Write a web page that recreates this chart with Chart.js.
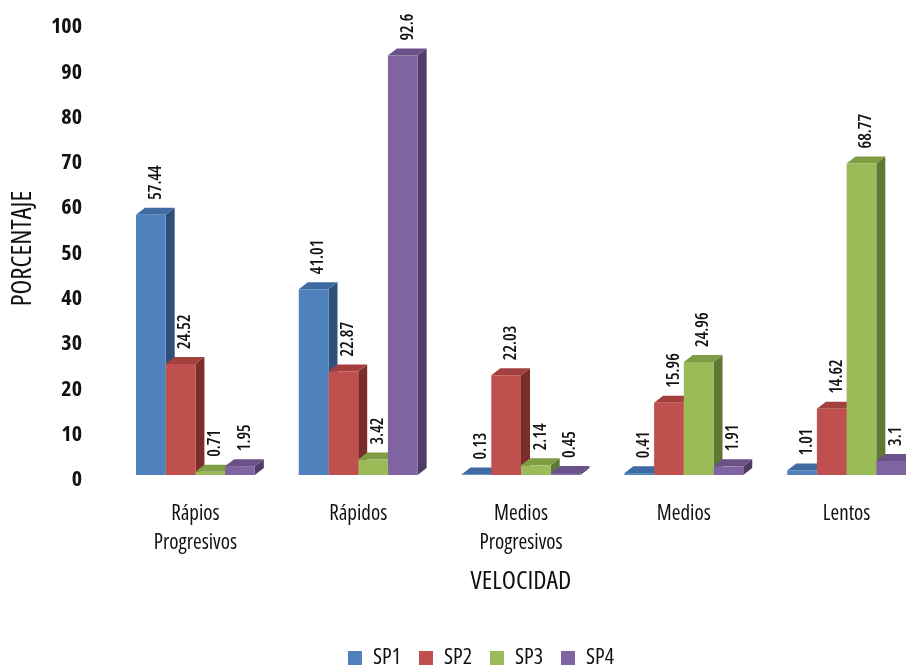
<!DOCTYPE html>
<html>
<head>
<meta charset="utf-8">
<script src="https://cdn.jsdelivr.net/npm/chart.js@4.4.0/dist/chart.umd.min.js"></script>
<style>
    html, body { margin: 0; padding: 0; background: #fff; overflow: hidden; }
    #wrap { width: 962px; height: 669px; }
</style>
</head>
<body>
<div id="wrap"><canvas id="velocidadChart"></canvas></div>
<script>
const categories = [["Rápios", "Progresivos"], "Rápidos", ["Medios", "Progresivos"], "Medios", "Lentos"];
const seriesNames = ["SP1", "SP2", "SP3", "SP4"];
const sp1 = [57.44, 41.01, 0.13, 0.41, 1.01];
const sp2 = [24.52, 22.87, 22.03, 15.96, 14.62];
const sp3 = [0.71, 3.42, 2.14, 24.96, 68.77];
const sp4 = [1.95, 92.6, 0.45, 1.91, 3.1];
const yTicks = [0, 10, 20, 30, 40, 50, 60, 70, 80, 90, 100];

const FONT = "'Open Sans', sans-serif";

// colores: frente, arriba, lado
const frontColors = ["#4F81BD", "#C0504D", "#9BBB59", "#8064A2"];
const topColors = ["#3F6BA3", "#A33F3C", "#7F9D45", "#6A5189"];
const sideColors = ["#2F5079", "#7A2D2B", "#5F7832", "#4E3B66"];

const DX = 9, DY = 7;

/* ===============================
   caras 3D (lado y arriba) detras del frente
=============================== */
const bars3d = {
    id: "bars3d",
    beforeDatasetsDraw(chart) {
        const ctx = chart.ctx;
        const metas = chart.data.datasets.map((d, i) => chart.getDatasetMeta(i));
        ctx.save();
        for (let c = 0; c < categories.length; c++) {
            metas.forEach((meta, s) => {
                const bar = meta.data[c];
                if (!bar) return;
                const { x, y, base, width } = bar.getProps(["x", "y", "base", "width"], true);
                const l = x - width / 2, r = x + width / 2;
                // lado
                ctx.fillStyle = sideColors[s];
                ctx.beginPath();
                ctx.moveTo(r, y);
                ctx.lineTo(r + DX, y - DY);
                ctx.lineTo(r + DX, base - DY);
                ctx.lineTo(r, base);
                ctx.closePath();
                ctx.fill();
                // arriba
                ctx.fillStyle = topColors[s];
                ctx.beginPath();
                ctx.moveTo(l, y);
                ctx.lineTo(l + DX, y - DY);
                ctx.lineTo(r + DX, y - DY);
                ctx.lineTo(r, y);
                ctx.closePath();
                ctx.fill();
            });
        }
        ctx.restore();
    },
    // etiquetas de valor verticales
    afterDatasetsDraw(chart) {
        const ctx = chart.ctx;
        ctx.save();
        ctx.fillStyle = "#111";
        ctx.font = "condensed 600 17px " + FONT;
        ctx.textAlign = "left";
        ctx.textBaseline = "middle";
        chart.data.datasets.forEach((ds, s) => {
            chart.getDatasetMeta(s).data.forEach((bar, i) => {
                const { x, y } = bar.getProps(["x", "y"], true);
                ctx.save();
                ctx.translate(x + 5, y - 15);
                ctx.rotate(-Math.PI / 2);
                ctx.fillText(String(ds.data[i]), 0, 0);
                ctx.restore();
            });
        });
        ctx.restore();
    }
};

const seriesData = [sp1, sp2, sp3, sp4];

new Chart(document.getElementById("velocidadChart"), {
    type: "bar",
    data: {
        labels: categories,
        datasets: seriesNames.map((name, i) => ({
            label: name,
            data: seriesData[i],
            backgroundColor: frontColors[i],
            borderWidth: 0,
            categoryPercentage: 0.73,
            barPercentage: 1.0
        }))
    },
    options: {
        responsive: true,
        maintainAspectRatio: false,
        animation: false,
        layout: { padding: { left: 34, right: 34, top: 22, bottom: -10 } },
        plugins: {
            tooltip: { enabled: false },
            legend: {
                position: "bottom",
                labels: {
                    boxWidth: 14,
                    boxHeight: 14,
                    padding: 18,
                    color: "#111",
                    font: { family: FONT, size: 22, weight: "400 condensed" }
                }
            }
        },
        scales: {
            x: {
                grid: { display: false, drawTicks: false },
                border: { display: false },
                ticks: {
                    color: "#111",
                    padding: 24,
                    font: { family: FONT, size: 21, weight: "400 condensed", lineHeight: 1.4 },
                    maxRotation: 0,
                    autoSkip: false
                },
                title: {
                    display: true,
                    text: "VELOCIDAD",
                    color: "#111",
                    font: { family: FONT, size: 26, weight: "400 condensed" },
                    padding: { top: 6, bottom: 32 }
                },
                afterFit(scale) { scale.height = 154; }
            },
            y: {
                min: 0,
                max: 100,
                grid: { display: false, drawTicks: false },
                border: { display: false },
                afterBuildTicks(scale) { scale.ticks = yTicks.map(v => ({ value: v })); },
                ticks: {
                    color: "#111",
                    padding: 32,
                    labelOffset: 5,
                    font: { family: FONT, size: 22, weight: "bold condensed" }
                },
                title: {
                    display: true,
                    text: "PORCENTAJE",
                    color: "#111",
                    font: { family: FONT, size: 27, weight: "400 condensed" },
                    padding: { top: -27, bottom: 0 }
                },
                afterFit(scale) {
                    scale.width = 80;
                    scale.paddingTop = 0;
                    scale.paddingBottom = 0;
                }
            }
        }
    },
    plugins: [bars3d]
});
</script>
</body>
</html>
